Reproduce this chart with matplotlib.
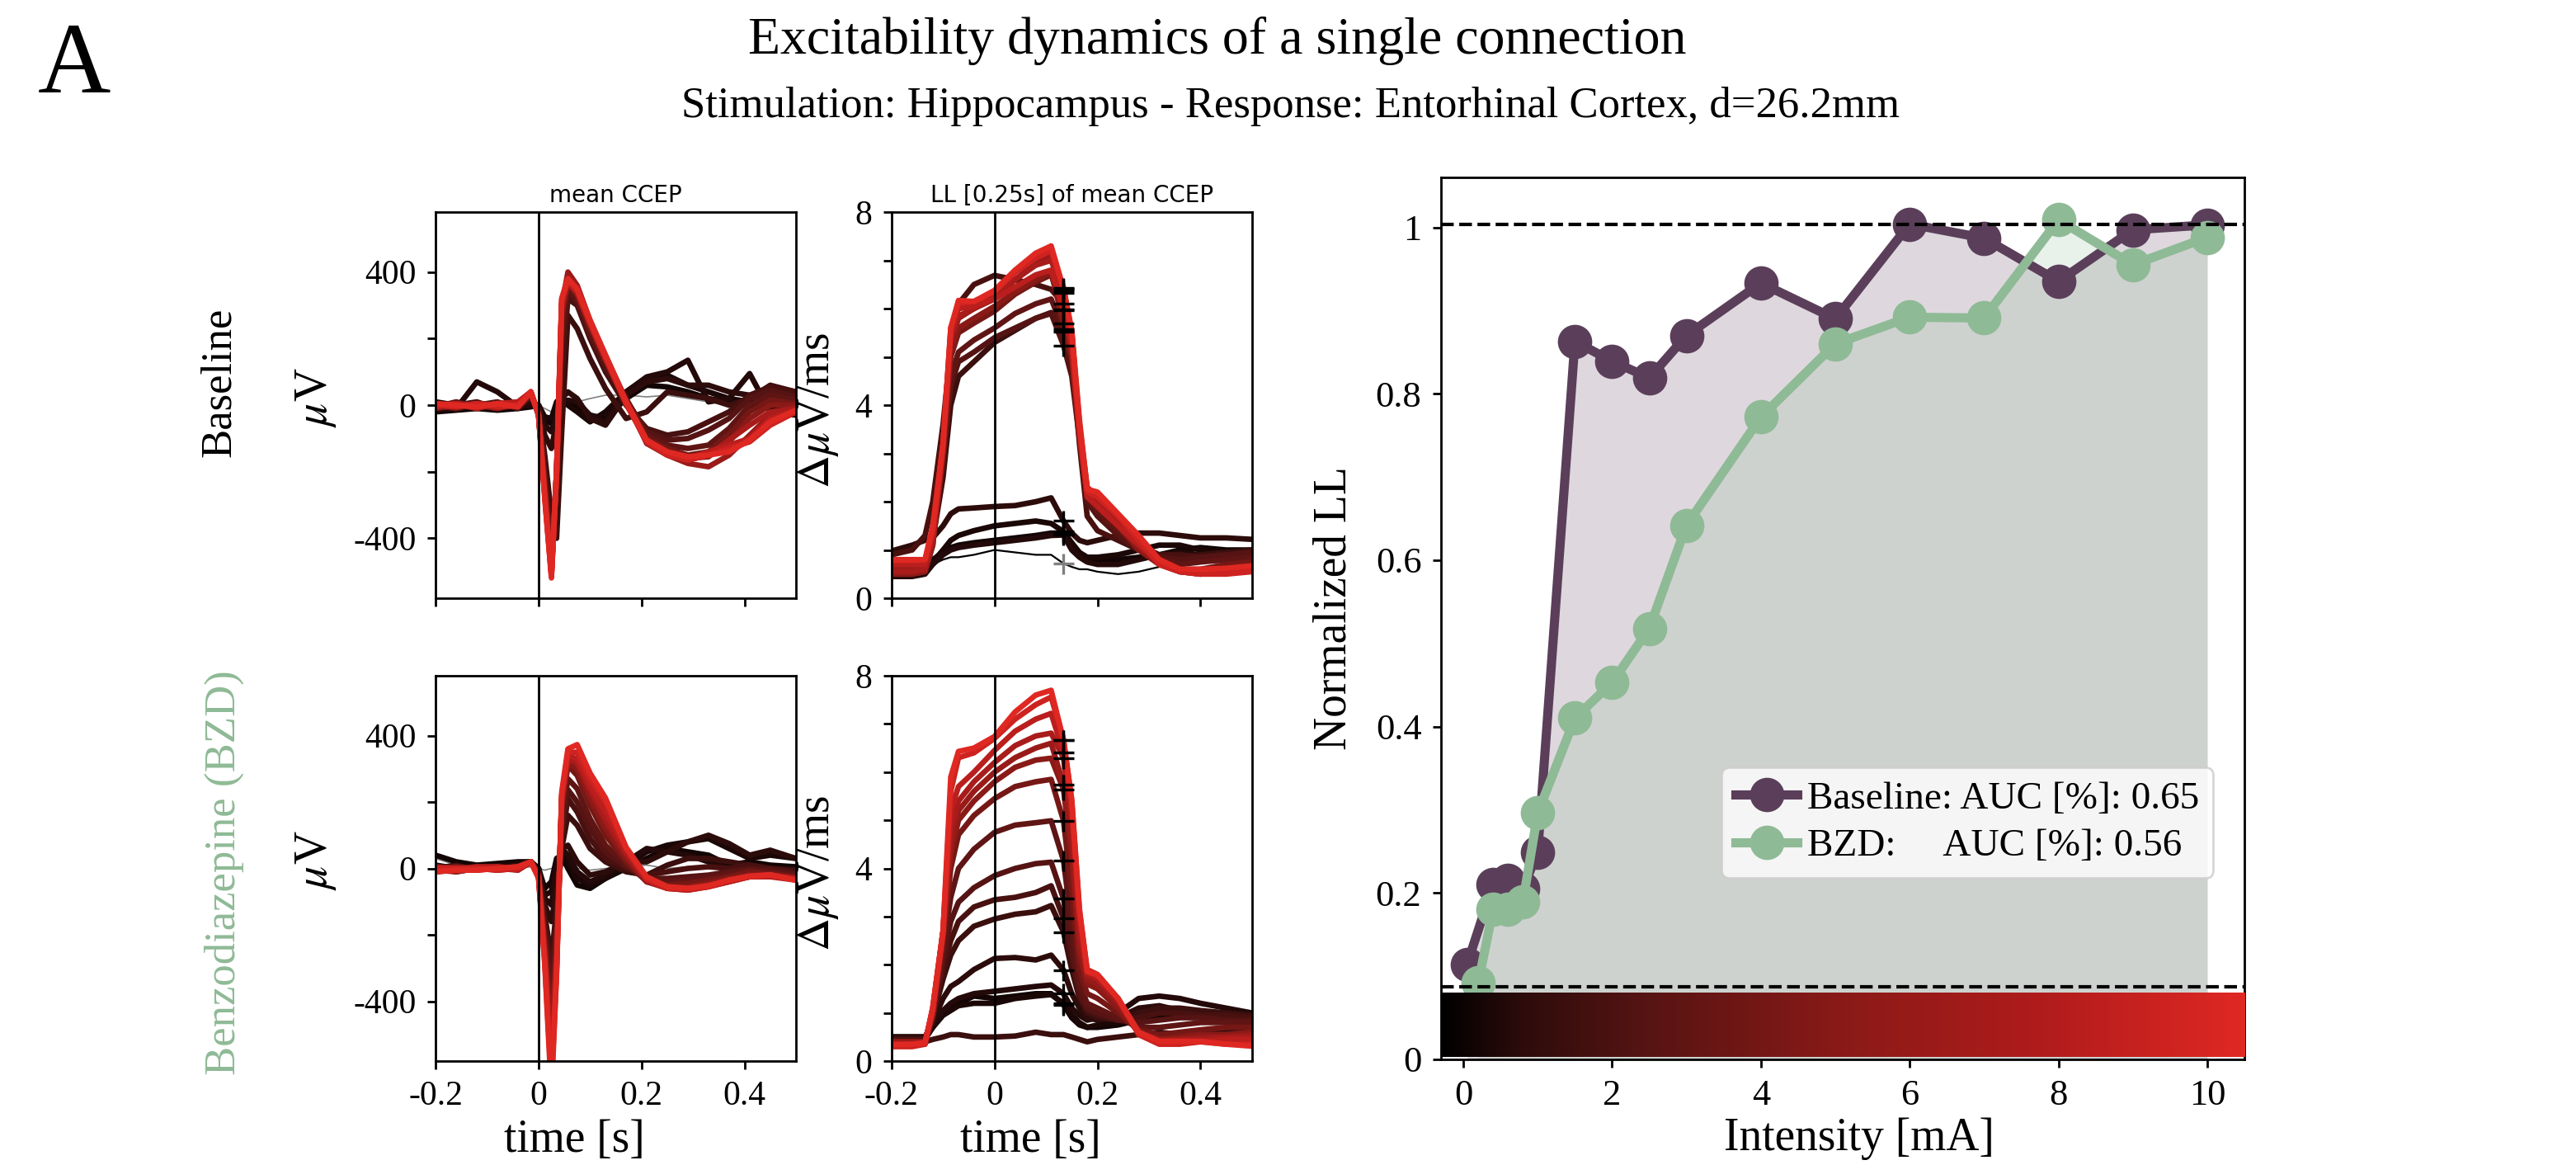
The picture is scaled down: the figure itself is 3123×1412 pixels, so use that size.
import matplotlib
matplotlib.use('Agg')
import matplotlib.pyplot as plt
import numpy as np
from matplotlib.colors import LinearSegmentedColormap

plt.rcParams['font.family'] = ['Liberation Serif', 'DejaVu Serif']
plt.rcParams['mathtext.fontset'] = 'stix'
plt.rcParams['axes.unicode_minus'] = False

# ---- data ----
t_ccep = [-0.2, -0.16, -0.12, -0.08, -0.04, -0.015, 0.0, 0.012, 0.025, 0.035, 0.045, 0.057,
          0.075, 0.1, 0.13, 0.17, 0.21, 0.25, 0.29, 0.33, 0.37, 0.41, 0.45, 0.5]
t_ll = [-0.2, -0.16, -0.135, -0.12, -0.1, -0.085, -0.07, -0.04, 0.0, 0.04, 0.08, 0.11,
        0.134, 0.15, 0.165, 0.18, 0.2, 0.24, 0.28, 0.32, 0.36, 0.4, 0.45, 0.5]
t_cross = 0.134

intens_base = [0.05, 0.4, 0.6, 0.8, 1.0, 1.5, 2, 2.5, 3, 4, 5, 6, 7, 8, 9, 10]
intens_bzd = [0.2, 0.4, 0.6, 0.8, 1.0, 1.5, 2, 2.5, 3, 4, 5, 6, 7, 8, 9, 10]

norm_base = [0.114, 0.21, 0.215, 0.205, 0.249, 0.863, 0.839, 0.819, 0.870, 0.933, 0.890,
             1.004, 0.987, 0.935, 0.997, 1.003]
norm_bzd = [0.092, 0.18, 0.18, 0.189, 0.296, 0.41, 0.453, 0.518, 0.642, 0.772, 0.86,
            0.892, 0.891, 1.009, 0.955, 0.988]
auc_base = 0.65
auc_bzd = 0.56
thr_hi = 1.004
thr_lo = 0.087

ccep_base = [
    [0, -5, 5, 10, 0, 10, 0, -10, -20, 0, 10, 15, 10, 20, 30, 30, 25, 30, 20, 10, 0, -10, 0, 10],
    [-20, -15, -10, -15, -10, -5, 0, -45, -55, 0, 20, 10, -5, -30, -40, 20, 60, 55, 40, 20, 10, 0, -10, -20],
    [10, 0, 5, -5, 5, 5, 0, -35, -40, 10, 25, 0, -20, -50, -20, 40, 80, 90, 60, 40, 20, 10, 5, -10],
    [-15, -10, 70, 40, -5, 0, 0, -60, -80, -30, 10, 15, 10, -30, -50, 40, 85, 100, 135, 10, 20, 95, -20, -30],
    [0, -10, 0, -5, 5, 10, 0, -90, -130, -50, 20, 40, 20, -40, -60, 30, 70, 80, 60, 60, 40, 30, 15, 0],
    [5, 0, -10, 5, 5, 20, -10, -150, -330, -400, -80, 270, 230, 140, 50, -40, -20, 40, 30, 20, 0, 20, 60, 40],
    [-10, 0, 10, -10, 0, 25, -15, -180, -420, -280, 100, 320, 300, 200, 100, 0, -70, -90, -80, -50, -20, 30, 55, 40],
    [5, -5, 0, 10, -10, 30, -20, -200, -440, -250, 180, 340, 310, 210, 120, 15, -80, -105, -100, -75, -40, 20, 45, 25],
    [-5, 10, -5, 0, 5, 30, -20, -220, -460, -230, 230, 355, 320, 225, 130, 20, -90, -120, -130, -120, -70, 0, 30, 15],
    [0, -10, 5, -5, 0, 35, -25, -240, -475, -220, 260, 370, 330, 235, 135, 15, -100, -130, -150, -140, -90, -20, 15, 5],
    [-10, 0, -5, 5, -5, 35, -25, -250, -490, -210, 280, 365, 335, 240, 140, 10, -110, -140, -160, -155, -110, -40, 0, 0],
    [0, 5, 0, -10, 5, 40, -30, -260, -500, -200, 300, 400, 360, 255, 150, 15, -115, -150, -175, -185, -150, -90, -30, -5],
    [5, -5, 5, 0, -5, 40, -30, -265, -505, -200, 300, 375, 345, 250, 145, 10, -110, -150, -165, -150, -105, -60, -20, -10],
    [-5, 5, -10, 5, 10, 40, -30, -270, -510, -200, 310, 370, 340, 245, 140, 5, -105, -145, -160, -140, -120, -100, -40, -15],
    [0, -5, 5, -5, 0, 40, -30, -275, -515, -200, 320, 380, 345, 250, 145, 5, -110, -150, -165, -150, -130, -110, -60, -20],
    [5, 0, -5, 5, -5, 40, -30, -280, -519, -200, 320, 380, 350, 255, 150, 10, -105, -140, -155, -150, -140, -105, -50, -15],
]

ccep_bzd = [
    [30, 10, 0, 5, 0, 5, 0, -5, 0, 5, 10, 5, 0, -5, 0, 5, 10, 0, 5, 0, 5, 0, 0, 0],
    [40, 20, 10, 15, 20, 20, 0, -60, -40, 30, 40, 0, -50, -60, -30, 0, 30, 60, 50, 40, 10, 20, 10, 5],
    [10, 0, 5, 10, 15, 20, 0, -80, -70, 20, 50, 20, -30, -50, -30, 10, 50, 70, 80, 90, 60, 30, 40, 30],
    [0, -10, 0, 5, 10, 15, 0, -90, -110, 0, 60, 40, -10, -40, -20, 20, 60, 50, 40, 20, 0, 10, 0, -5],
    [-10, -5, 5, 0, 10, 20, 0, -110, -160, -60, 60, 70, 20, -20, -10, 20, 20, 50, 80, 100, 75, 40, 55, 30],
    [0, 10, -5, 5, 0, 20, -10, -140, -270, -120, 60, 160, 130, 60, 20, -10, -20, 10, 30, 30, 20, 10, 0, -5],
    [5, -5, 0, 0, 5, 20, -10, -160, -310, -150, 90, 210, 170, 90, 30, 0, -20, -10, 0, 5, 0, 10, 0, -10],
    [-5, 0, 5, -5, 0, 20, -15, -180, -350, -170, 120, 237, 200, 120, 50, 5, -30, -30, -25, -20, -10, 0, -5, -15],
    [0, -5, -5, 5, 0, 20, -15, -200, -400, -200, 150, 270, 240, 150, 70, 10, -35, -40, -35, -25, -15, -5, -10, -20],
    [-10, 0, 5, 0, -5, 20, -20, -220, -460, -230, 180, 310, 280, 190, 100, 20, -40, -50, -45, -35, -25, -10, -15, -25],
    [0, 5, 0, -5, 5, 20, -20, -240, -500, -250, 200, 320, 300, 210, 120, 30, -40, -55, -55, -45, -30, -20, -20, -30],
    [-5, -10, 0, 5, 0, 20, -20, -250, -540, -270, 200, 330, 315, 230, 140, 40, -40, -60, -60, -50, -35, -25, -20, -30],
    [5, 0, -5, 0, 5, 20, -25, -260, -580, -290, 210, 330, 320, 240, 150, 45, -35, -60, -65, -55, -40, -25, -20, -30],
    [-5, -5, 5, 5, -5, 20, -25, -270, -620, -300, 220, 340, 330, 250, 170, 55, -35, -60, -65, -55, -40, -25, -25, -35],
    [0, 0, 0, -5, 0, 20, -25, -280, -650, -310, 220, 350, 350, 270, 200, 60, -30, -60, -60, -55, -35, -25, -20, -35],
    [-10, -5, -5, 0, 5, 20, -30, -290, -680, -320, 230, 360, 373, 287, 212, 64, -25, -55, -60, -52, -35, -23, -19, -35],
]

ll_base = [
    [0.55, 0.55, 0.6, 0.7, 0.8, 0.85, 0.85, 0.9, 1.0, 0.95, 0.9, 0.9, 0.72, 0.65, 0.6, 0.6, 0.55, 0.5, 0.55, 0.65, 0.7, 0.75, 0.75, 0.8],
    [0.6, 0.6, 0.65, 0.8, 0.95, 1.05, 1.1, 1.15, 1.2, 1.25, 1.3, 1.35, 1.34, 1.1, 0.9, 0.8, 0.75, 0.8, 0.85, 0.9, 1.0, 1.05, 1.0, 1.0],
    [0.5, 0.5, 0.55, 0.75, 1.0, 1.2, 1.3, 1.4, 1.5, 1.55, 1.6, 1.55, 1.38, 1.15, 0.95, 0.85, 0.85, 0.9, 1.0, 1.1, 1.1, 1.0, 0.95, 0.9],
    [0.45, 0.45, 0.5, 0.7, 0.9, 1.0, 1.05, 1.1, 1.15, 1.2, 1.25, 1.3, 1.31, 1.0, 0.85, 0.75, 0.7, 0.7, 0.8, 0.9, 0.95, 0.9, 0.85, 0.85],
    [0.98, 1.1, 1.2, 1.25, 1.5, 1.75, 1.85, 1.87, 1.9, 1.92, 2.0, 2.08, 1.6, 1.35, 1.2, 1.15, 1.2, 1.3, 1.35, 1.35, 1.3, 1.25, 1.25, 1.22],
    [0.6, 0.6, 0.7, 1.2, 2.5, 4.0, 4.6, 4.9, 5.3, 5.55, 5.8, 5.92, 5.52, 4.9, 3.4, 2.0, 1.8, 1.4, 1.1, 0.9, 0.85, 0.9, 0.95, 1.0],
    [0.9, 1.0, 1.3, 2.0, 3.6, 5.2, 6.1, 6.5, 6.69, 6.6, 6.5, 6.4, 6.1, 5.0, 3.2, 1.7, 1.4, 1.2, 1.0, 0.9, 0.9, 0.85, 0.85, 0.8],
    [0.6, 0.6, 0.65, 1.3, 2.8, 4.4, 4.9, 5.1, 5.4, 5.6, 5.8, 5.9, 5.24, 4.6, 3.3, 2.0, 1.7, 1.3, 1.0, 0.85, 0.8, 0.85, 0.9, 0.95],
    [0.55, 0.55, 0.6, 1.2, 2.9, 4.6, 5.1, 5.35, 5.6, 5.9, 6.1, 6.2, 5.57, 4.9, 3.4, 2.1, 1.8, 1.4, 1.1, 0.8, 0.7, 0.75, 0.8, 0.85],
    [0.5, 0.5, 0.55, 1.1, 3.0, 5.0, 5.5, 5.7, 5.95, 6.3, 6.55, 6.7, 5.97, 5.2, 3.5, 2.2, 2.0, 1.5, 1.1, 0.75, 0.6, 0.6, 0.7, 0.75],
    [0.5, 0.5, 0.55, 1.1, 3.0, 5.1, 5.6, 5.8, 6.05, 6.35, 6.6, 6.75, 5.70, 5.0, 3.4, 2.1, 1.9, 1.5, 1.0, 0.7, 0.55, 0.55, 0.6, 0.65],
    [0.6, 0.6, 0.6, 1.2, 3.1, 5.3, 5.8, 6.0, 6.2, 6.6, 6.95, 7.1, 6.43, 5.5, 3.6, 2.3, 2.1, 1.7, 1.2, 0.75, 0.55, 0.5, 0.55, 0.6],
    [0.55, 0.55, 0.6, 1.2, 3.1, 5.4, 5.85, 6.0, 6.25, 6.6, 6.9, 7.0, 6.32, 5.4, 3.5, 2.2, 2.0, 1.6, 1.1, 0.7, 0.55, 0.5, 0.55, 0.6],
    [0.7, 0.7, 0.7, 1.3, 3.2, 5.5, 6.0, 6.05, 6.2, 6.45, 6.7, 6.8, 5.98, 5.2, 3.4, 2.1, 1.9, 1.5, 1.1, 0.8, 0.6, 0.55, 0.6, 0.65],
    [0.8, 0.8, 0.8, 1.4, 3.2, 5.6, 6.1, 6.15, 6.35, 6.75, 7.05, 7.2, 6.38, 5.5, 3.5, 2.2, 2.1, 1.7, 1.2, 0.7, 0.55, 0.5, 0.5, 0.55],
    [0.79, 0.79, 0.8, 1.5, 3.2, 5.6, 6.17, 6.15, 6.38, 6.8, 7.15, 7.3, 6.42, 5.56, 3.7, 2.26, 2.2, 1.75, 1.3, 0.8, 0.6, 0.6, 0.62, 0.67],
]

ll_bzd = [
    [0.4, 0.4, 0.4, 0.45, 0.5, 0.55, 0.55, 0.5, 0.5, 0.52, 0.6, 0.55, 0.55, 0.5, 0.45, 0.4, 0.45, 0.5, 0.55, 0.6, 0.55, 0.6, 0.65, 0.6],
    [0.5, 0.5, 0.5, 0.7, 1.0, 1.1, 1.2, 1.35, 1.3, 1.35, 1.4, 1.4, 1.17, 0.9, 0.75, 0.7, 0.7, 0.75, 0.85, 0.9, 0.95, 0.95, 0.9, 0.85],
    [0.45, 0.45, 0.45, 0.7, 0.95, 1.05, 1.15, 1.2, 1.2, 1.3, 1.35, 1.38, 1.2, 0.95, 0.8, 0.7, 0.75, 0.8, 0.85, 0.95, 1.05, 0.95, 0.85, 0.8],
    [0.5, 0.5, 0.5, 0.75, 1.05, 1.2, 1.3, 1.4, 1.45, 1.5, 1.55, 1.58, 1.4, 1.1, 0.95, 0.85, 0.9, 1.0, 1.3, 1.35, 1.3, 1.2, 1.1, 1.0],
    [0.5, 0.5, 0.5, 0.8, 1.3, 1.55, 1.65, 1.9, 2.13, 2.15, 2.1, 2.2, 1.89, 1.4, 1.1, 0.9, 0.85, 0.9, 1.1, 1.15, 1.05, 1.0, 0.95, 0.9],
    [0.45, 0.45, 0.45, 0.9, 1.7, 2.2, 2.5, 2.8, 2.95, 3.05, 3.1, 3.23, 2.68, 1.9, 1.3, 1.0, 0.9, 0.85, 1.0, 1.1, 1.1, 1.05, 1.0, 0.95],
    [0.45, 0.45, 0.45, 0.9, 1.9, 2.5, 2.9, 3.2, 3.35, 3.4, 3.5, 3.64, 2.96, 2.1, 1.35, 1.05, 0.95, 0.85, 0.9, 1.0, 1.0, 0.95, 0.95, 0.9],
    [0.4, 0.4, 0.4, 0.9, 2.1, 2.9, 3.3, 3.6, 3.85, 4.0, 4.1, 4.13, 3.37, 2.3, 1.4, 1.1, 1.0, 0.85, 0.8, 0.85, 0.9, 0.9, 0.85, 0.85],
    [0.4, 0.4, 0.4, 0.9, 2.3, 3.4, 4.0, 4.4, 4.75, 4.9, 4.95, 4.99, 4.16, 2.8, 1.6, 1.2, 1.1, 0.9, 0.7, 0.7, 0.75, 0.8, 0.8, 0.8],
    [0.4, 0.4, 0.4, 0.95, 2.5, 4.0, 4.7, 5.1, 5.45, 5.7, 5.8, 5.85, 4.99, 3.5, 1.9, 1.4, 1.3, 1.0, 0.65, 0.55, 0.6, 0.65, 0.7, 0.7],
    [0.35, 0.35, 0.4, 1.0, 2.6, 4.3, 5.0, 5.4, 5.8, 6.1, 6.25, 6.29, 5.64, 4.2, 2.2, 1.6, 1.5, 1.1, 0.6, 0.45, 0.5, 0.55, 0.55, 0.6],
    [0.4, 0.4, 0.4, 1.0, 2.6, 4.5, 5.2, 5.6, 6.0, 6.3, 6.5, 6.6, 5.74, 4.5, 2.4, 1.7, 1.6, 1.2, 0.6, 0.45, 0.45, 0.5, 0.5, 0.55],
    [0.35, 0.35, 0.4, 1.0, 2.7, 4.8, 5.4, 5.8, 6.2, 6.55, 6.75, 6.81, 6.29, 5.0, 2.7, 1.8, 1.7, 1.25, 0.6, 0.4, 0.45, 0.45, 0.5, 0.5],
    [0.35, 0.35, 0.35, 1.1, 2.7, 5.2, 5.7, 6.0, 6.45, 6.85, 7.1, 7.22, 6.4, 5.2, 3.0, 1.85, 1.75, 1.3, 0.6, 0.4, 0.4, 0.4, 0.45, 0.45],
    [0.3, 0.3, 0.35, 1.1, 2.7, 5.6, 6.3, 6.4, 6.7, 7.1, 7.4, 7.56, 6.67, 5.4, 3.1, 1.9, 1.8, 1.3, 0.55, 0.35, 0.35, 0.4, 0.35, 0.35],
    [0.34, 0.35, 0.38, 1.1, 2.68, 5.9, 6.43, 6.5, 6.74, 7.25, 7.6, 7.7, 6.67, 5.43, 3.16, 1.86, 1.79, 1.3, 0.6, 0.41, 0.41, 0.41, 0.35, 0.31],
]

# ---- styles ----
c_base = '#5b3f5a'
c_bzd = '#8fba96'
cmap = LinearSegmentedColormap.from_list(
    'intens', [(0, '#000000'), (0.1, '#2d0c0b'), (0.25, '#551413'),
               (0.5, '#8a1a17'), (0.75, '#b01c1c'), (1.0, '#e02823')])

fig = plt.figure(figsize=(15.615, 7.06), dpi=200)

ax_cb = fig.add_axes([0.1691, 0.4865, 0.1399, 0.3314])
ax_lb = fig.add_axes([0.3461, 0.4865, 0.1399, 0.3314])
ax_cz = fig.add_axes([0.1691, 0.0892, 0.1399, 0.3307])
ax_lz = fig.add_axes([0.3461, 0.0892, 0.1399, 0.3307])
ax_r = fig.add_axes([0.5594, 0.0907, 0.3119, 0.757])


def style(ax, size=15):
    for s in ax.spines.values():
        s.set_linewidth(1.0)
    ax.tick_params(labelsize=size, width=1.0, length=3.5, pad=5)


def draw_ccep(ax, traces, intens, first_thin):
    for i, (y, mA) in enumerate(zip(traces, intens)):
        if i == 0 and first_thin:
            ax.plot(t_ccep, y, color='grey', lw=0.6)
        else:
            ax.plot(t_ccep, y, color=cmap(mA / 10), lw=2.4)
    ax.axvline(0, color='k', lw=1.0)
    ax.set_xlim(-0.2, 0.5)
    ax.set_ylim(-580, 580)
    ax.set_yticks([-400, -200, 0, 200, 400], ['-400', '', '0', '', '400'])
    ax.set_xticks([-0.2, 0, 0.2, 0.4])
    ax.set_ylabel(r'$\mu$V', fontsize=20)
    ax.yaxis.set_label_coords(-0.27, 0.52)
    style(ax)


def draw_ll(ax, traces, intens, first_thin, first_cross):
    k = t_ll.index(t_cross)
    for i, (y, mA) in enumerate(zip(traces, intens)):
        if i == 0 and first_thin:
            ax.plot(t_ll, y, color='k', lw=0.8)
        elif i == 0:
            ax.plot(t_ll, y, color=cmap(0.15), lw=2.4)
        else:
            ax.plot(t_ll, y, color=cmap(mA / 10), lw=2.4)
    for i, y in enumerate(traces):
        if i == 0:
            if first_cross:
                ax.plot(t_cross, y[k], '+', color='grey', ms=9, mew=1.2, zorder=4)
            continue
        ax.plot(t_cross, y[k], '+', color='k', ms=9, mew=1.2, zorder=4)
    ax.axvline(0, color='k', lw=1.0)
    ax.set_xlim(-0.2, 0.5)
    ax.set_ylim(0, 8)
    ax.set_yticks(range(9), ['0', '', '', '', '4', '', '', '', '8'])
    ax.set_xticks([-0.2, 0, 0.2, 0.4])
    ax.set_ylabel(r'$\Delta\mu$V/ms', fontsize=20)
    ax.yaxis.set_label_coords(-0.142, 0.487)
    style(ax)


draw_ccep(ax_cb, ccep_base, intens_base, True)
draw_ccep(ax_cz, ccep_bzd, intens_bzd, True)
draw_ll(ax_lb, ll_base, intens_base, True, True)
draw_ll(ax_lz, ll_bzd, intens_bzd, False, False)

for ax in (ax_cb, ax_lb):
    ax.set_xticklabels([])
for ax in (ax_cz, ax_lz):
    ax.set_xticklabels(['-0.2', '0', '0.2', '0.4'])
    ax.set_xlabel('time [s]', fontsize=20)
    ax.xaxis.set_label_coords(0.385, -0.15)

ax_cb.set_title('mean CCEP', fontsize=10, family='DejaVu Sans', pad=4.5)
ax_lb.set_title('LL [0.25s] of mean CCEP', fontsize=10, family='DejaVu Sans', pad=4.5)

# ---- right panel: normalized LL vs intensity ----
xlim_r = (-0.3, 10.5)
ax_r.fill_between(intens_base, norm_base, 0, color=c_base, alpha=0.2, lw=0, zorder=1)
ax_r.fill_between(intens_bzd, norm_bzd, 0, color=c_bzd, alpha=0.2, lw=0, zorder=1)
ax_r.plot(intens_base, norm_base, '-o', color=c_base, lw=4, ms=14, zorder=2,
          label='Baseline: AUC [%]: ' + f'{auc_base:.2f}')
ax_r.plot(intens_bzd, norm_bzd, '-o', color=c_bzd, lw=4, ms=14, zorder=2,
          label='BZD:     AUC [%]: ' + f'{auc_bzd:.2f}')
ax_r.imshow(np.linspace(0, 1, 256)[None, :], cmap=cmap, aspect='auto',
            extent=(xlim_r[0], xlim_r[1], 0.003, 0.08), zorder=3)
ax_r.axhline(thr_hi, color='k', ls='--', lw=1.5, zorder=4)
ax_r.axhline(thr_lo, color='k', ls='--', lw=1.5, zorder=4)
ax_r.set_xlim(*xlim_r)
ax_r.set_ylim(0, 1.06)
ax_r.set_xticks([0, 2, 4, 6, 8, 10])
ax_r.set_yticks([0, 0.2, 0.4, 0.6, 0.8, 1], ['0', '0.2', '0.4', '0.6', '0.8', '1'])
ax_r.set_xlabel('Intensity [mA]', fontsize=20)
ax_r.set_ylabel('Normalized LL', fontsize=20)
ax_r.yaxis.set_label_coords(-0.106, 0.512)
ax_r.xaxis.set_label_coords(0.52, -0.066)
style(ax_r, 16)
ax_r.legend(loc='lower right', bbox_to_anchor=(0.961, 0.206), borderaxespad=0,
            fontsize=17, handlelength=1.6, handletextpad=0.25, borderpad=0.35,
            labelspacing=0.3)

# ---- figure texts ----
fig.text(0.0147, 0.9207, 'A', fontsize=44, va='baseline', ha='left')
fig.text(0.4725, 0.954, 'Excitability dynamics of a single connection', fontsize=23,
         ha='center', va='baseline')
fig.text(0.501, 0.8994, 'Stimulation: Hippocampus - Response: Entorhinal Cortex, d=26.2mm',
         fontsize=19, ha='center', va='baseline')
fig.text(0.085, 0.672, 'Baseline', fontsize=19, rotation=90, ha='center', va='center')
fig.text(0.087, 0.2507, 'Benzodiazepine (BZD)', fontsize=19, rotation=90,
         ha='center', va='center', color=c_bzd)

fig.savefig('out.png', dpi=200)
